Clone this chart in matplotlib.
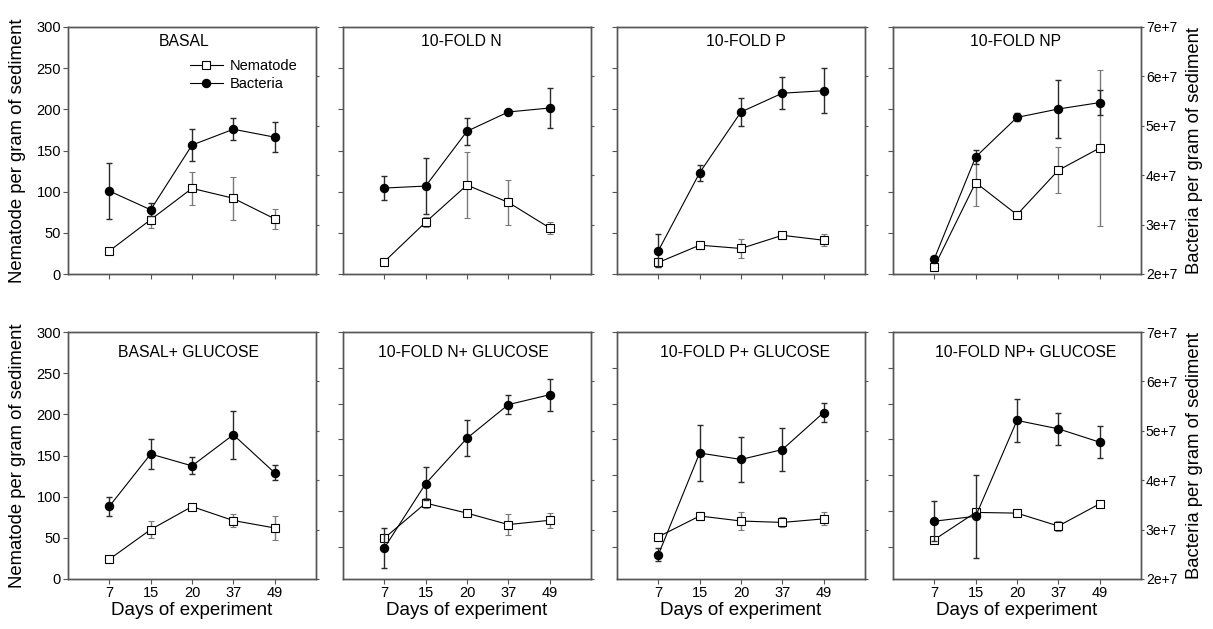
import numpy as np
import matplotlib
matplotlib.use('Agg')
import matplotlib.pyplot as plt
from matplotlib.lines import Line2D

plt.rcParams['font.family'] = ['Liberation Sans', 'DejaVu Sans']

# Datos
titulos = ['BASAL', '10-FOLD N', '10-FOLD P', '10-FOLD NP',
           'BASAL+ GLUCOSE', '10-FOLD N+ GLUCOSE', '10-FOLD P+ GLUCOSE', '10-FOLD NP+ GLUCOSE']
dias = ['7', '15', '20', '37', '49']

# Nematodos por gramo de sedimento (eje izquierdo)
nema = [[28, 66, 104, 92, 67],
        [15, 63, 108, 87, 56],
        [14, 35, 31, 47, 41],
        [9, 111, 72, 126, 153],
        [24, 60, 88, 71, 62],
        [12, 61, 47, 31, 37],
        [14, 43, 36, 34, 39],
        [10, 48, 47, 29, 60]]
nema_err = [[1, 10, 20, 26, 12],
            [2, 6, 40, 27, 7],
            [6, 4.5, 12, 4.5, 7],
            [2, 28, 3, 28, 95],
            [1, 10, 3, 7.5, 14.5],
            [3, 7, 3, 14.6, 10.5],
            [2, 6, 13, 7, 9],
            [1, 2, 2, 7, 1]]

# Bacterias por gramo de sedimento (eje derecho)
bact = [[3.68e7, 3.30e7, 4.61e7, 4.93e7, 4.77e7],
        [3.74e7, 3.78e7, 4.89e7, 5.28e7, 5.36e7],
        [2.47e7, 4.05e7, 5.28e7, 5.66e7, 5.71e7],
        [2.31e7, 4.37e7, 5.17e7, 5.34e7, 5.47e7],
        [3.47e7, 4.53e7, 4.29e7, 4.92e7, 4.15e7],
        [2.63e7, 3.93e7, 4.85e7, 5.53e7, 5.73e7],
        [2.49e7, 4.55e7, 4.42e7, 4.62e7, 5.37e7],
        [3.17e7, 3.27e7, 5.21e7, 5.04e7, 4.77e7]]
bact_err = [[0.57e7, 0.13e7, 0.32e7, 0.22e7, 0.30e7],
            [0.24e7, 0.56e7, 0.27e7, 0.04e7, 0.40e7],
            [0.33e7, 0.16e7, 0.29e7, 0.33e7, 0.45e7],
            [0.05e7, 0.15e7, 0.08e7, 0.58e7, 0.26e7],
            [0.19e7, 0.30e7, 0.17e7, 0.49e7, 0.15e7],
            [0.41e7, 0.33e7, 0.37e7, 0.20e7, 0.32e7],
            [0.13e7, 0.57e7, 0.45e7, 0.44e7, 0.19e7],
            [0.40e7, 0.84e7, 0.43e7, 0.32e7, 0.32e7]]

nema_ticks = [0, 50, 100, 150, 200, 250, 300]
bact_ticks = [2e7, 3e7, 4e7, 5e7, 6e7, 7e7]
bact_labels = ['2e+7', '3e+7', '4e+7', '5e+7', '6e+7', '7e+7']

# limites del eje izquierdo de cada panel
nema_lim = [(0, 300)] * 5 + [(-45, 300)] * 3

# Posicion de los paneles (pixeles)
W_fig, H_fig = 1213, 629
izq = [68, 343, 617, 893]
arriba = [27, 332]
W, H = 248, 247
tit_x = [0.468, 0.479, 0.521, 0.496, 0.484, 0.487, 0.516, 0.534]
tit_y = [0.943, 0.919]

fig = plt.figure(figsize=(W_fig / 100, H_fig / 100), dpi=100)
x = np.arange(1, 6)
spine_c = '#555555'

for i in range(8):
    r, c = divmod(i, 4)
    ax = fig.add_axes([izq[c] / W_fig, 1 - (arriba[r] + H) / H_fig, W / W_fig, H / H_fig])
    ax2 = ax.twinx()

    ax.errorbar(x, nema[i], yerr=nema_err[i], color='k', lw=0.8, marker='s', ms=5.3,
                mfc='white', mec='k', mew=0.8, ecolor='#7a7a7a', elinewidth=1,
                capsize=2.5, capthick=1, zorder=3)
    ax2.errorbar(x, bact[i], yerr=bact_err[i], color='k', lw=0.8, marker='o', ms=5.8,
                 mfc='k', mec='k', ecolor='#2a2a2a', elinewidth=1,
                 capsize=2.5, capthick=1, zorder=3)

    ax.set_xlim(0, 6)
    ax.set_xticks(x)
    ax.set_xticklabels(dias)
    ax.set_ylim(nema_lim[i])
    ax.set_yticks(nema_ticks)
    ax2.set_ylim(2e7, 7e7)
    ax2.set_yticks(bact_ticks)
    ax2.set_yticklabels(bact_labels)

    for a in (ax, ax2):
        for s in a.spines.values():
            s.set_color(spine_c)
            s.set_linewidth(1)
    ax.tick_params(axis='both', direction='out', length=3.5, width=0.8, color=spine_c,
                   labelsize=10.5, pad=1.5)
    ax.tick_params(axis='x', labelbottom=(r == 1), pad=1.5)
    ax.tick_params(axis='y', labelleft=(c == 0))
    ax2.tick_params(axis='y', direction='out', length=2.5, width=0.8, color=spine_c,
                    labelsize=10, pad=1, labelright=(c == 3))

    ax.text(tit_x[i], tit_y[r], titulos[i], transform=ax.transAxes,
            ha='center', va='center', fontsize=11.3)

    if c == 0:
        ax.set_ylabel('Nematode per gram of sediment', fontsize=13.3)
        ax.yaxis.set_label_coords(-0.168, 0.5)
    if c == 3:
        ax2.set_ylabel('Bacteria per gram of sediment', fontsize=13.3, rotation=90)
        ax2.yaxis.set_label_coords(1.18, 0.5)
    if r == 1:
        ax.set_xlabel('Days of experiment', fontsize=13.5)
        ax.xaxis.set_label_coords(0.5, -0.092)

    if i == 0:
        h1 = Line2D([], [], color='k', lw=0.8, marker='s', ms=5.3, mfc='white', mec='k', mew=0.8)
        h2 = Line2D([], [], color='k', lw=0.8, marker='o', ms=5.8, mfc='k', mec='k')
        ax2.legend([h1, h2], ['Nematode', 'Bacteria'], loc='upper left',
                   bbox_to_anchor=(0.49, 0.87), frameon=False, fontsize=10.5,
                   borderaxespad=0, borderpad=0, handlelength=2.3,
                   handletextpad=0.45, labelspacing=0.3)

fig.savefig('out.png', dpi=100)
